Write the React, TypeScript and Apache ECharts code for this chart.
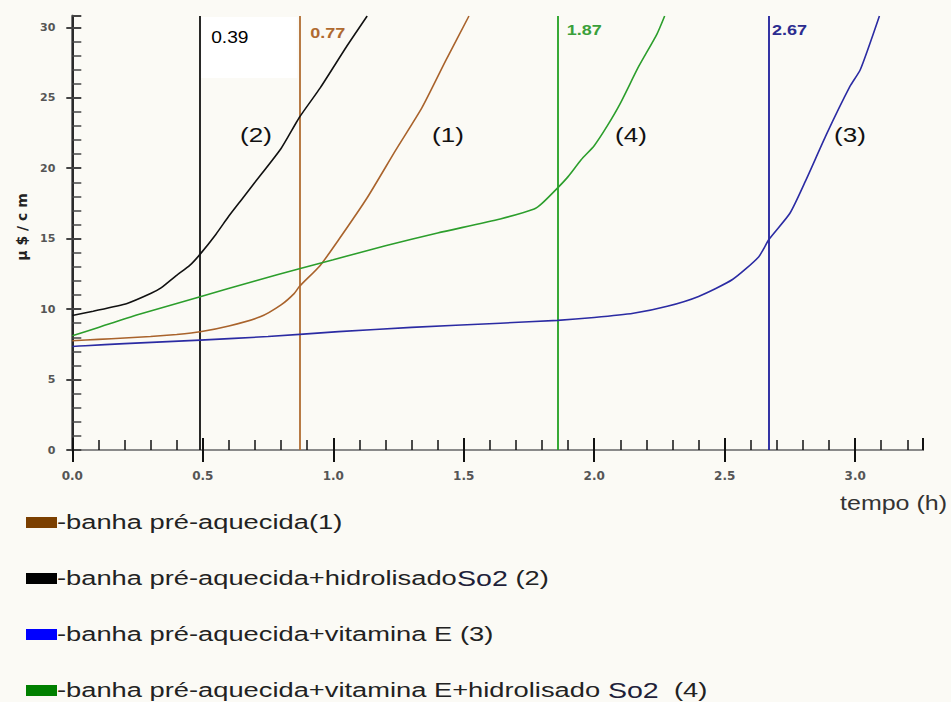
import React, { useEffect, useRef } from 'react';
import * as echarts from 'echarts';

// Conductivity (µS/cm) against time (h) for four lard samples
const banhaPreAquecida: [number, number][] = [
  [0, 7.75], [0.1, 7.85], [0.2, 7.95], [0.3, 8.05], [0.4, 8.2], [0.49, 8.39], [0.6, 8.8],
  [0.72, 9.45], [0.8, 10.3], [0.85, 11.1], [0.87, 11.6], [0.95, 13.1], [1.02, 14.9],
  [1.13, 17.9], [1.24, 21.3], [1.34, 24.3], [1.43, 27.6], [1.52, 30.8],
];
const comHidrolisado: [number, number][] = [
  [0, 9.55], [0.08, 9.85], [0.21, 10.4], [0.3, 11.1], [0.34, 11.5], [0.4, 12.4], [0.45, 13.1],
  [0.49, 13.9], [0.55, 15.3], [0.6, 16.6], [0.65, 17.8], [0.7, 19.0], [0.8, 21.4], [0.87, 23.6],
  [0.95, 25.7], [1.05, 28.6], [1.13, 30.8],
];
const comVitaminaE: [number, number][] = [
  [0, 7.35], [0.05, 7.4], [0.2, 7.55], [0.49, 7.8], [0.75, 8.05], [1.02, 8.4], [1.3, 8.7],
  [1.64, 9.0], [1.86, 9.2], [2.0, 9.4], [2.15, 9.7], [2.28, 10.2], [2.4, 10.9], [2.53, 12.1],
  [2.63, 13.7], [2.67, 14.95], [2.75, 16.8], [2.81, 19.1], [2.89, 22.4], [2.98, 25.8],
  [3.02, 27.0], [3.093, 30.8],
];
const comVitaminaEHidrolisado: [number, number][] = [
  [0, 8.1], [0.1, 8.7], [0.25, 9.6], [0.49, 10.87], [0.7, 12.0], [0.87, 12.86], [1.0, 13.5],
  [1.2, 14.5], [1.4, 15.4], [1.64, 16.4], [1.77, 17.1], [1.8, 17.5], [1.86, 18.6], [1.9, 19.4],
  [1.95, 20.6], [2.0, 21.6], [2.05, 23.0], [2.1, 24.6], [2.17, 27.2], [2.24, 29.5], [2.27, 30.8],
];

// Vertical markers (left to right) and their printed induction times
const markerX = [0.49, 0.87, 1.86, 2.67];
const markerText = ['0.39', '0.77', '1.87', '2.67'];

const curveTags = ['(1)', '(2)', '(3)', '(4)'];
const legendTexts = [
  ['-banha pré-aquecida', '', '(1)'],
  ['-banha pré-aquecida+hidrolisado', 'So2', ' (2)'],
  ['-banha pré-aquecida+vitamina E', '', ' (3)'],
  ['-banha pré-aquecida+vitamina E+hidrolisado ', 'So2', '  (4)'],
];

const X_MAX = 3.26;
const Y_MAX = 30.8;

// per series: (1) brown, (2) black, (3) blue, (4) green
const curveColors = ['#a9632c', '#111111', '#2b2ba3', '#2c9e2c'];
const legendColors = ['#7b3f00', '#000000', '#0000ff', '#008000'];
const seriesMarker = [1, 0, 3, 2];
// per marker, left to right: black, brown, green, blue
const markerColors = ['#111111', '#b06c32', '#22a022', '#1d1d9c'];
const markerLabelColors = ['#000000', '#b06a30', '#3aa03a', '#2c2c90'];
const markerLabelDx = [11, 11, 9, 3];
const markerLabelCy = [38, 33, 30, 30];

export default function App() {
  const ref = useRef<HTMLDivElement>(null);

  useEffect(() => {
    const chart = echarts.init(ref.current!, null, { renderer: 'svg' });
    const tickFont = { fontFamily: 'DejaVu Sans', fontWeight: 'bold' as const, color: '#555' };

    const seriesData = [banhaPreAquecida, comHidrolisado, comVitaminaE, comVitaminaEHidrolisado];

    chart.setOption({
      animation: false,
      backgroundColor: '#fbfaf5',
      grid: { left: 72.3, top: 16, width: 850.7, height: 434, containLabel: false },
      xAxis: [
        {
          type: 'value', min: 0, max: X_MAX, interval: 0.5,
          axisLine: { show: true, lineStyle: { color: '#111', width: 2 } },
          axisTick: { show: true, inside: false, length: 12, lineStyle: { color: '#111', width: 2 } },
          minorTick: { show: false },
          splitLine: { show: false },
          axisLabel: { ...tickFont, fontSize: 12, margin: 20, showMaxLabel: false, formatter: (v: number) => v.toFixed(1) },
        },
        {
          type: 'value', min: 0, max: X_MAX, interval: 0.5, position: 'bottom',
          axisLine: { show: false },
          axisTick: { show: true, inside: true, length: 12, lineStyle: { color: '#111', width: 2 } },
          minorTick: { show: true, splitNumber: 5, length: 10, lineStyle: { color: '#111', width: 1.5 } },
          splitLine: { show: false },
          axisLabel: { show: false },
        },
        {
          type: 'value', min: 0, max: X_MAX, position: 'top',
          axisLine: { show: true, lineStyle: { color: '#8a8a8a', width: 2 } },
          axisTick: { show: false }, splitLine: { show: false }, axisLabel: { show: false },
        },
      ],
      yAxis: [
        {
          type: 'value', min: 0, max: Y_MAX, interval: 5,
          axisLine: { show: true, lineStyle: { color: '#7a7a7a', width: 3 } },
          axisTick: { show: true, inside: false, length: 6, lineStyle: { color: '#444', width: 2 } },
          minorTick: { show: false },
          splitLine: { show: false },
          axisLabel: { ...tickFont, fontSize: 11, margin: 17, showMaxLabel: false },
        },
        {
          type: 'value', min: 0, max: Y_MAX, interval: 5, position: 'left',
          axisLine: { show: false },
          axisTick: { show: true, inside: true, length: 9, lineStyle: { color: '#444', width: 2 } },
          minorTick: { show: true, splitNumber: 5, length: 9, lineStyle: { color: '#444', width: 1.5 } },
          splitLine: { show: false },
          axisLabel: { show: false },
        },
        {
          type: 'value', min: 0, max: Y_MAX, position: 'right',
          axisLine: { show: true, lineStyle: { color: '#111', width: 1.5 } },
          axisTick: { show: false }, splitLine: { show: false }, axisLabel: { show: false },
        },
      ],
      series: seriesData.map((d, i) => ({
        type: 'line',
        name: curveTags[i],
        data: d,
        xAxisIndex: 0,
        yAxisIndex: 0,
        showSymbol: false,
        symbol: 'none',
        smooth: 0.2,
        clip: true,
        lineStyle: { color: curveColors[i], width: 1.6 },
        z: 3,
        markLine: {
          silent: true,
          symbol: 'none',
          label: { show: false },
          lineStyle: { color: markerColors[seriesMarker[i]], width: 1.8, type: 'solid' },
          data: [{ xAxis: markerX[seriesMarker[i]] }],
          z: 2,
        },
      })),
    });

    const graphics: any[] = [];

    // clear box behind the first induction label
    const firstPx = chart.convertToPixel({ xAxisIndex: 0 }, markerX[0]) as number;
    const secondPx = chart.convertToPixel({ xAxisIndex: 0 }, markerX[1]) as number;
    graphics.push({
      type: 'rect', z: 1,
      shape: { x: firstPx + 1, y: 17, width: secondPx - firstPx - 3, height: 61 },
      style: { fill: '#ffffff' },
    });

    markerX.forEach((x, i) => {
      const px = chart.convertToPixel({ xAxisIndex: 0 }, x) as number;
      graphics.push({
        type: 'text', z: 10,
        x: px + markerLabelDx[i], y: markerLabelCy[i], scaleX: 1.2,
        style: {
          text: markerText[i], fill: markerLabelColors[i],
          font: `${i === 0 ? 'normal' : 'bold'} ${i === 0 ? 16 : 15}px "Liberation Sans", Arial, sans-serif`,
          verticalAlign: 'middle', align: 'left',
        },
      });
    });

    // curve identifiers
    const tagPos = [[448, 135], [256, 135], [850, 135], [631, 135]];
    curveTags.forEach((t, i) => {
      graphics.push({
        type: 'text', z: 10, x: tagPos[i][0], y: tagPos[i][1], scaleX: 1.3,
        style: {
          text: t, fill: '#111', font: '20px "Liberation Sans", Arial, sans-serif',
          align: 'center', verticalAlign: 'middle',
        },
      });
    });

    // axis titles
    graphics.push({
      type: 'text', z: 10, x: 22, y: 227, rotation: Math.PI / 2,
      style: {
        text: 'μ $ / c m', fill: '#222', font: 'bold 14px "DejaVu Sans", sans-serif',
        align: 'center', verticalAlign: 'middle',
      },
    });
    graphics.push({
      type: 'text', z: 10, x: 947, y: 503, scaleX: 1.25,
      style: {
        text: 'tempo (h)', fill: '#333', font: '20px "Liberation Sans", Arial, sans-serif',
        align: 'right', verticalAlign: 'middle',
      },
    });

    // legend
    const legendY = [522, 578, 634, 690];
    legendTexts.forEach((parts, i) => {
      graphics.push({
        type: 'rect', z: 10,
        shape: { x: 26, y: legendY[i] - 5, width: 31, height: 11 },
        style: { fill: legendColors[i] },
      });
      graphics.push({
        type: 'text', z: 10, x: 57, y: legendY[i], scaleX: 1.3,
        style: {
          text: `{a|${parts[0]}}` + (parts[1] ? `{b|${parts[1]}}` : '') + `{a|${parts[2]}}`,
          verticalAlign: 'middle', align: 'left',
          rich: {
            a: { fontFamily: '"Liberation Sans", Arial, sans-serif', fontSize: 21, fill: '#222' },
            b: { fontFamily: '"Liberation Sans", Arial, sans-serif', fontSize: 22, fill: '#1f1f3a' },
          },
        },
      });
    });

    chart.setOption({ graphic: graphics });

    return () => chart.dispose();
  }, []);

  return (
    <div
      ref={ref}
      style={{ position: 'fixed', left: 0, top: 0, width: 951, height: 702, background: '#fbfaf5' }}
    />
  );
}
